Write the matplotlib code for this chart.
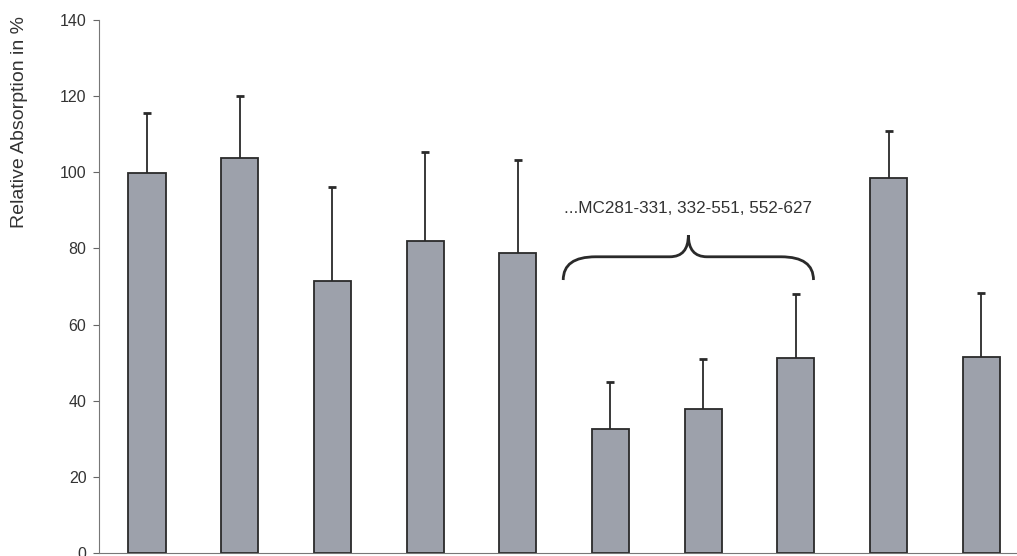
import matplotlib.pyplot as plt
import numpy as np
from matplotlib.path import Path
from matplotlib.patches import PathPatch

plt.rcParams['font.family'] = ['Liberation Sans', 'DejaVu Sans']

# Datos
muestras = list(range(10))
absorcion = [99.7, 103.7, 71.5, 82.0, 78.7, 32.5, 37.8, 51.3, 98.6, 51.6]
error_sup = [15.8, 16.3, 24.7, 23.4, 24.5, 12.3, 13.1, 16.7, 12.3, 16.6]
etiqueta_llave = '...MC281-331, 332-551, 552-627'
yticks = [0, 20, 40, 60, 80, 100, 120, 140]

fig = plt.figure(figsize=(10.17, 5.56), dpi=100)
ax = fig.add_axes([0.0973, 0.0054, 0.9027, 0.9587])

x = np.array(muestras)
y = np.array(absorcion)
err = np.array(error_sup)
ax.bar(x, y, width=0.4, color='#9da1ab', edgecolor='#2a2a2a', linewidth=1.3, zorder=2)
# Barras de error solo hacia arriba
ax.vlines(x, y, y + err, color='#2a2a2a', linewidth=1.3, zorder=3)
ax.plot(x, y + err, linestyle='none', marker='_', markersize=6, markeredgewidth=2,
        color='#2a2a2a', zorder=3)

# Llave sobre las muestras 6-8
x0, x1, xm = 4.49, 7.19, 5.84
y_end, y_h, y_tip = 71.7, 77.8, 83.5
verts = [(x0, y_end), (x0, y_h), (x0 + 0.35, y_h),
         (xm - 0.2, y_h),
         (xm, y_h), (xm, y_tip),
         (xm, y_h), (xm + 0.2, y_h),
         (x1 - 0.35, y_h),
         (x1, y_h), (x1, y_end)]
codes = [Path.MOVETO, Path.CURVE3, Path.CURVE3,
         Path.LINETO,
         Path.CURVE3, Path.CURVE3,
         Path.CURVE3, Path.CURVE3,
         Path.LINETO,
         Path.CURVE3, Path.CURVE3]
ax.add_patch(PathPatch(Path(verts, codes), facecolor='none', edgecolor='#2a2a2a',
                       linewidth=2.0, zorder=4))
ax.text(xm, 90.5, etiqueta_llave, ha='center', va='center', fontsize=12.3, color='#333333')

ax.set_xlim(-0.518, 9.385)
ax.set_ylim(0, 140)
ax.set_yticks(yticks)
ax.tick_params(axis='y', labelsize=11.5, length=4, pad=5, colors='#666666', labelcolor='#333333')
ax.set_xticks([])
ax.set_ylabel('Relative Absorption in %', fontsize=14, color='#333333')
ax.yaxis.set_label_coords(-0.0773, 0.809)
for s in ['top', 'right']:
    ax.spines[s].set_visible(False)
ax.spines['left'].set_color('#777777')
ax.spines['bottom'].set_color('#777777')

fig.savefig('out.png', dpi=100)
